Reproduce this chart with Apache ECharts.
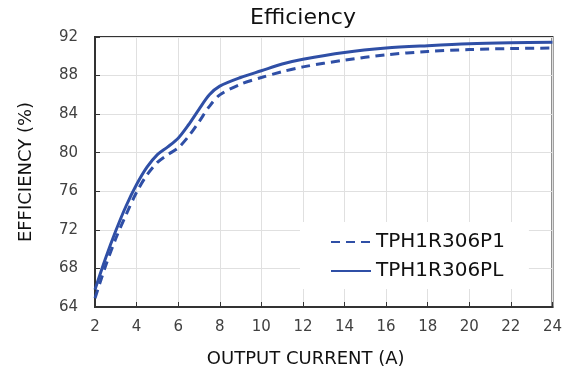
<!DOCTYPE html>
<html>
<head>
<meta charset="utf-8">
<script src="https://cdn.jsdelivr.net/npm/echarts@6/dist/echarts.min.js"></script>
<style>
  html, body { margin: 0; padding: 0; background: #fff; }
  #chart { width: 565px; height: 374px; }
</style>
</head>
<body>
<div id="chart"></div>
<script>
// output current (A)
var current = [2, 2.5, 3, 3.5, 4, 4.5, 5, 5.5, 6, 6.5, 7, 7.5, 8, 9, 10, 11, 12, 14, 16, 18, 20, 22, 24];
// efficiency (%)
var effP1 = [64.9, 68.2, 71.1, 73.6, 75.9, 77.7, 79.0, 79.8, 80.5, 81.7, 83.2, 84.8, 86.0, 87.1, 87.8, 88.4, 88.9, 89.6, 90.15, 90.5, 90.7, 90.8, 90.85];
var effPL = [65.8, 69.0, 71.9, 74.5, 76.7, 78.5, 79.8, 80.6, 81.5, 82.9, 84.5, 86.0, 86.9, 87.8, 88.5, 89.2, 89.7, 90.4, 90.85, 91.1, 91.3, 91.4, 91.45];
var seriesNames = ["TPH1R306P1", "TPH1R306PL"];

function pairs(ys) {
  return current.map(function(x, i) { return [x, ys[i]]; });
}

var font = "'DejaVu Sans', sans-serif";
var blue = "#2f4fa6";

var myChart = echarts.init(document.getElementById("chart"));
myChart.setOption({
  animation: false,
  textStyle: { fontFamily: font },
  title: {
    text: "Efficiency",
    left: 298,
    textAlign: "center",
    top: 2,
    textStyle: { fontFamily: font, fontSize: 22, fontWeight: "normal", color: "#111" }
  },
  grid: {
    left: 95,
    right: 7,
    top: 37,
    bottom: 67,
    show: true,
    borderColor: "#333",
    borderWidth: 2
  },
  legend: {
    orient: "vertical",
    left: 300,
    top: 222,
    padding: [10, 24, 8, 30],
    backgroundColor: "#fff",
    itemWidth: 40,
    itemHeight: 20,
    itemGap: 9,
    itemStyle: { opacity: 0 },
    textStyle: { fontFamily: font, fontSize: 20, color: "#111" },
    data: seriesNames
  },
  xAxis: {
    type: "value",
    min: 2,
    max: 24,
    interval: 2,
    name: "OUTPUT CURRENT (A)",
    nameLocation: "middle",
    nameGap: 43,
    nameTextStyle: { fontFamily: font, fontSize: 18, color: "#111", padding: [0, 36, 0, 0] },
    axisLine: { lineStyle: { color: "#333", width: 2 } },
    axisTick: { inside: true, length: 5, lineStyle: { color: "#333" } },
    axisLabel: { margin: 13, fontSize: 15, color: "#404040" },
    splitLine: { lineStyle: { color: "#e0e0e0" } }
  },
  yAxis: {
    type: "value",
    min: 64,
    max: 92,
    interval: 4,
    name: "EFFICIENCY (%)",
    nameLocation: "middle",
    nameGap: 60,
    nameTextStyle: { fontFamily: font, fontSize: 18, color: "#111" },
    axisLine: { show: true, lineStyle: { color: "#333", width: 2 } },
    axisTick: { show: true, inside: true, length: 5, lineStyle: { color: "#333" } },
    axisLabel: { margin: 17, fontSize: 15, color: "#404040" },
    splitLine: { lineStyle: { color: "#e0e0e0" } }
  },
  series: [
    {
      name: seriesNames[0],
      type: "line",
      smooth: 0.3,
      symbol: "none",
      data: pairs(effP1),
      itemStyle: { color: blue },
      lineStyle: { color: blue, width: 3, type: [9, 6] }
    },
    {
      name: seriesNames[1],
      type: "line",
      smooth: 0.3,
      symbol: "none",
      data: pairs(effPL),
      itemStyle: { color: blue },
      lineStyle: { color: blue, width: 3 }
    }
  ]
});
</script>
</body>
</html>
